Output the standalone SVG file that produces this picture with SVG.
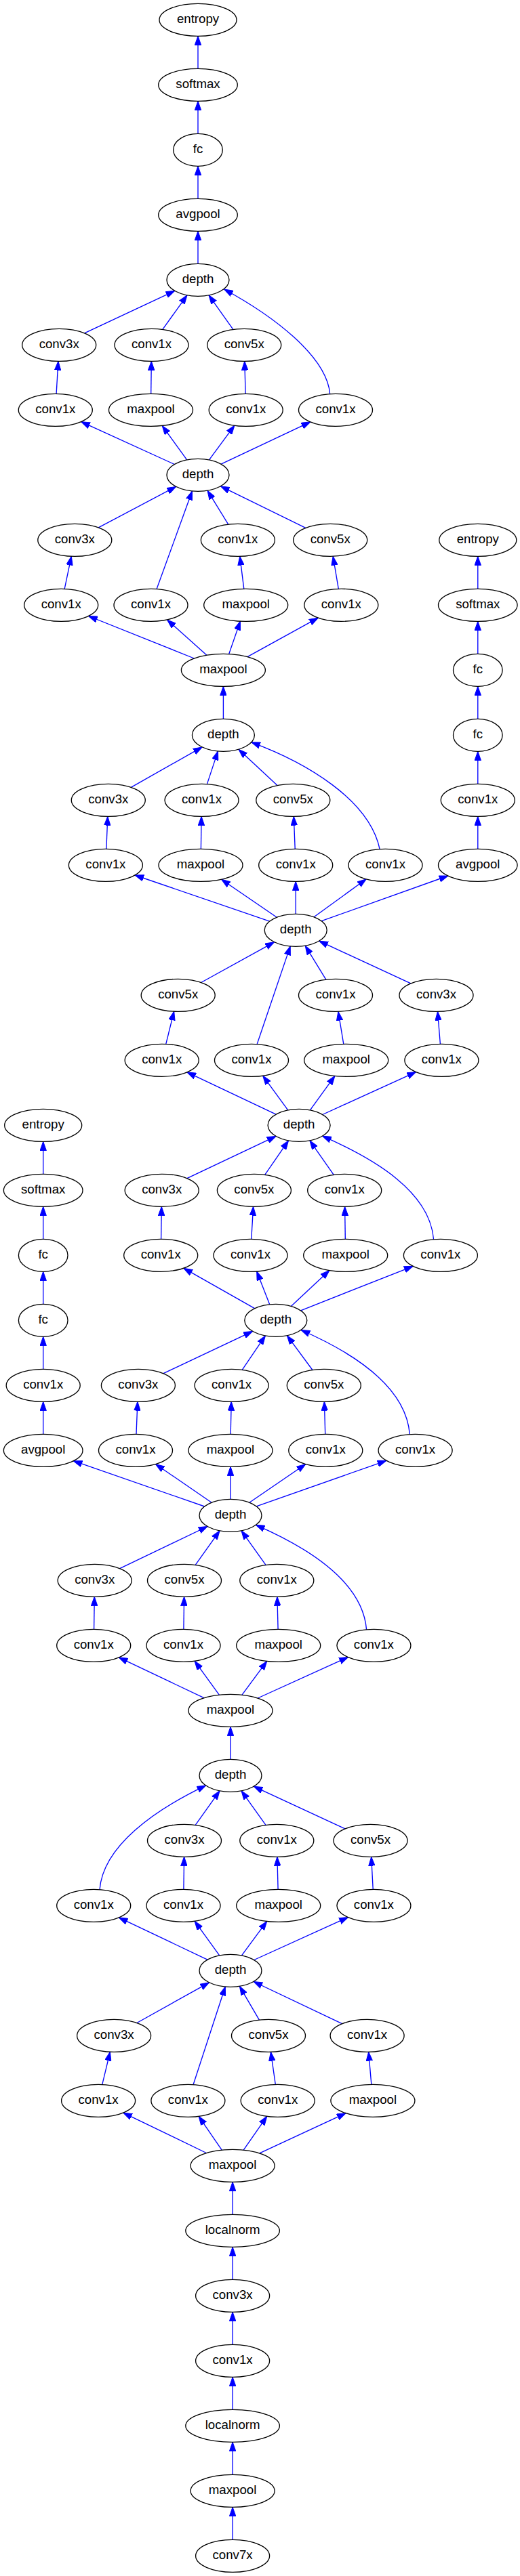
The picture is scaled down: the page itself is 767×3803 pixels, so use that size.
<svg xmlns="http://www.w3.org/2000/svg" width="767" height="3803" viewBox="0 0 767 3803">
<style>
.n ellipse{fill:#fff;stroke:#000;stroke-width:1.33}
.n text{font-family:"Liberation Sans",Arial,Helvetica,sans-serif;font-size:18.67px;text-anchor:middle;fill:#000}
.e path{fill:none;stroke:#0000ff;stroke-width:1.33;marker-end:url(#ah)}
</style>
<defs>
<marker id="ah" viewBox="0 0 14 10" refX="13.3" refY="5" markerWidth="14" markerHeight="10" markerUnits="userSpaceOnUse" orient="auto">
<path d="M0,0.3 L13.3,5 L0,9.7 z" fill="#0000ff" stroke="#0000ff" stroke-width="1"/>
</marker>
</defs>
<rect x="0" y="0" width="767" height="3803" fill="#fff"/>
<g id="edges" class="e">
<path d="M292,101.3 L292,53.3"/>
<path d="M292,197.3 L292,149.3"/>
<path d="M292,293.3 L292,245.3"/>
<path d="M292,389.3 L292,341.3"/>
<path d="M124.5,491.8 L257.8,429.3"/>
<path d="M239.8,486.4 L276,435.8"/>
<path d="M343.9,486.4 L308,435.8"/>
<path d="M486.7,581.7 C482,525 400.5,465 330.5,427"/>
<path d="M83.1,581.3 L85.9,533.3"/>
<path d="M222.7,581.3 L223.3,533.3"/>
<path d="M362.1,581.3 L360.8,533.3"/>
<path d="M257.4,685.5 L119.6,622.6"/>
<path d="M275.7,678.8 L239.2,628.4"/>
<path d="M308.5,678.9 L345.9,628.1"/>
<path d="M326.1,685.2 L457.9,622.9"/>
<path d="M145.2,778.9 L259.7,718.4"/>
<path d="M231.1,869.6 L283.5,724.9"/>
<path d="M336.7,774.1 L306,724.2"/>
<path d="M450.8,779.4 L325.5,717.8"/>
<path d="M95.2,869.4 L105.3,821.2"/>
<path d="M359.8,869.3 L353.8,821.3"/>
<path d="M499.3,869.3 L491.2,821.3"/>
<path d="M704.8,869.3 L704.8,821.3"/>
<path d="M286.4,972 L130.5,909.5"/>
<path d="M304.9,967.3 L246.5,914.9"/>
<path d="M337.7,965.5 L354.4,917.1"/>
<path d="M365,969.6 L469.3,912.1"/>
<path d="M704.8,965.3 L704.8,917.3"/>
<path d="M329.4,1061.3 L329.4,1013.3"/>
<path d="M704.8,1061.3 L704.8,1013.3"/>
<path d="M193.3,1162.4 L298.2,1102.9"/>
<path d="M305.4,1157.6 L321.5,1108.9"/>
<path d="M409,1159.6 L351.9,1106.2"/>
<path d="M560.2,1254 C545,1180 450,1125 370.7,1095.8"/>
<path d="M156.9,1253.3 L158.8,1205.3"/>
<path d="M296.4,1253.3 L297.1,1205.3"/>
<path d="M435.2,1253.3 L433.3,1205.3"/>
<path d="M704.8,1157.3 L704.8,1109.3"/>
<path d="M704.8,1253.3 L704.8,1205.3"/>
<path d="M397.7,1360.1 L198.9,1292"/>
<path d="M408.3,1354.2 L326.5,1298.2"/>
<path d="M436.2,1349.3 L436.2,1301.3"/>
<path d="M463.1,1353.8 L540.2,1297.8"/>
<path d="M474.2,1359.7 L660.9,1293"/>
<path d="M296.6,1450.5 L404.6,1390.8"/>
<path d="M379.1,1541.6 L428.2,1396.9"/>
<path d="M480.8,1446.1 L450.2,1396.2"/>
<path d="M605.9,1451.9 L470.6,1389.2"/>
<path d="M244.7,1541.5 L256.7,1493.1"/>
<path d="M506.8,1541.3 L498.9,1493.3"/>
<path d="M649.4,1541.3 L645.5,1493.3"/>
<path d="M407.1,1645.2 L275.8,1582.9"/>
<path d="M424.7,1638.9 L387.7,1588.1"/>
<path d="M457.4,1638.9 L493.9,1588.4"/>
<path d="M475.7,1645.5 L613.6,1582.6"/>
<path d="M275.8,1739.7 L407.1,1677.4"/>
<path d="M390.7,1734.3 L425.5,1683.9"/>
<path d="M492.2,1734.4 L456.9,1683.8"/>
<path d="M639.6,1830 C634,1760 555,1712 475.5,1677.2"/>
<path d="M237.6,1829.3 L238.3,1781.3"/>
<path d="M370.8,1829.3 L373.6,1781.3"/>
<path d="M509.3,1829.3 L508.6,1781.3"/>
<path d="M63.7,1733.3 L63.7,1685.3"/>
<path d="M63.7,1829.3 L63.7,1781.3"/>
<path d="M63.7,1925.3 L63.7,1877.3"/>
<path d="M63.7,2021.3 L63.7,1973.3"/>
<path d="M63.7,2117.3 L63.7,2069.3"/>
<path d="M375.6,1931.7 L270.7,1872.2"/>
<path d="M397.7,1925.8 L378.7,1877"/>
<path d="M429.3,1928.4 L485.9,1875.5"/>
<path d="M443.5,1934.8 L609.3,1869.3"/>
<path d="M241,2027.7 L372.7,1965.4"/>
<path d="M357.2,2022.3 L391.4,1971.9"/>
<path d="M460.9,2022.5 L423.4,1971.7"/>
<path d="M604.3,2117.3 C598.7,2047.3 523.5,1998.3 444,1963.5"/>
<path d="M201,2117.3 L202.9,2069.3"/>
<path d="M340.2,2117.3 L341.2,2069.3"/>
<path d="M479.7,2117.3 L478.4,2069.3"/>
<path d="M301.7,2224 L108.1,2156.7"/>
<path d="M312.1,2218.2 L229.5,2161.5"/>
<path d="M340,2213.3 L340,2165.3"/>
<path d="M367.9,2218.2 L450.8,2161.5"/>
<path d="M378.1,2223.9 L570,2156.3"/>
<path d="M176.6,2315.6 L306.1,2253.5"/>
<path d="M288.2,2310.4 L324.1,2259.8"/>
<path d="M392,2310.4 L356,2259.8"/>
<path d="M540.6,2406 C535,2336 457,2286 377.4,2251.3"/>
<path d="M138.6,2405.3 L139.3,2357.3"/>
<path d="M270.9,2405.3 L271.6,2357.3"/>
<path d="M410.1,2405.3 L408.9,2357.3"/>
<path d="M300.9,2506.7 L175.2,2446.9"/>
<path d="M323.3,2502.2 L287.1,2452.2"/>
<path d="M357,2502.2 L393.7,2452.4"/>
<path d="M380.2,2507 L513.5,2446.5"/>
<path d="M340,2597.3 L340,2549.3"/>
<path d="M147,2790 C152,2725 228.7,2672 303.7,2635.9"/>
<path d="M288.2,2694.4 L324.1,2643.8"/>
<path d="M392,2694.4 L356,2643.8"/>
<path d="M509,2699.9 L374.3,2637.3"/>
<path d="M270.9,2789.3 L271.6,2741.3"/>
<path d="M410.1,2789.3 L408.9,2741.3"/>
<path d="M550.2,2789.3 L547.7,2741.3"/>
<path d="M306,2893.1 L175.2,2830.9"/>
<path d="M323.7,2886.8 L287.1,2836.2"/>
<path d="M356.5,2886.9 L393.7,2836.4"/>
<path d="M374.7,2893.5 L513.5,2830.5"/>
<path d="M201.8,2986.5 L308.6,2926.8"/>
<path d="M285.1,3077.5 L332.3,2933"/>
<path d="M382.4,2982.1 L353.4,2932.3"/>
<path d="M504.6,2987.7 L374,2925.5"/>
<path d="M150.8,3077.4 L162.4,3029.2"/>
<path d="M406.3,3077.3 L399.4,3029.3"/>
<path d="M547.8,3077.3 L543.7,3029.3"/>
<path d="M304.4,3178.5 L181.7,3119.1"/>
<path d="M327.2,3174.1 L293.1,3124.3"/>
<path d="M359.2,3174.1 L393.8,3124.3"/>
<path d="M382.8,3178.9 L510.2,3119.7"/>
<path d="M343.1,3269.3 L343.1,3221.3"/>
<path d="M343.1,3365.3 L343.1,3317.3"/>
<path d="M343.1,3461.3 L343.1,3413.3"/>
<path d="M343.1,3557.3 L343.1,3509.3"/>
<path d="M343.1,3653.3 L343.1,3605.3"/>
<path d="M343.1,3749.3 L343.1,3701.3"/>
</g>
<g id="nodes">
<g id="entropy_1" class="n"><ellipse cx="292" cy="29.3" rx="57" ry="24"/><text x="292" y="34.2">entropy</text></g>
<g id="softmax_1" class="n"><ellipse cx="292" cy="125.3" rx="58.3" ry="24"/><text x="292" y="130.2">softmax</text></g>
<g id="fc_1" class="n"><ellipse cx="292" cy="221.3" rx="36.3" ry="24"/><text x="292" y="226.2">fc</text></g>
<g id="avgpool_1" class="n"><ellipse cx="292" cy="317.3" rx="58.3" ry="24"/><text x="292" y="322.2">avgpool</text></g>
<g id="depth_9" class="n"><ellipse cx="292" cy="413.3" rx="46" ry="24"/><text x="292" y="418.2">depth</text></g>
<g id="conv3x_9" class="n"><ellipse cx="87.2" cy="509.3" rx="54.5" ry="24"/><text x="87.2" y="514.2">conv3x</text></g>
<g id="conv1x_9a" class="n"><ellipse cx="223.5" cy="509.3" rx="54.5" ry="24"/><text x="223.5" y="514.2">conv1x</text></g>
<g id="conv5x_9" class="n"><ellipse cx="360.2" cy="509.3" rx="54.5" ry="24"/><text x="360.2" y="514.2">conv5x</text></g>
<g id="conv1x_9b" class="n"><ellipse cx="81.8" cy="605.3" rx="54.5" ry="24"/><text x="81.8" y="610.2">conv1x</text></g>
<g id="maxpool_9" class="n"><ellipse cx="222.5" cy="605.3" rx="62" ry="24"/><text x="222.5" y="610.2">maxpool</text></g>
<g id="conv1x_9c" class="n"><ellipse cx="362.7" cy="605.3" rx="54.5" ry="24"/><text x="362.7" y="610.2">conv1x</text></g>
<g id="conv1x_9d" class="n"><ellipse cx="495" cy="605.3" rx="54.5" ry="24"/><text x="495" y="610.2">conv1x</text></g>
<g id="depth_8" class="n"><ellipse cx="292" cy="701.3" rx="46" ry="24"/><text x="292" y="706.2">depth</text></g>
<g id="conv3x_8" class="n"><ellipse cx="110.3" cy="797.3" rx="54.5" ry="24"/><text x="110.3" y="802.2">conv3x</text></g>
<g id="conv1x_8a" class="n"><ellipse cx="350.9" cy="797.3" rx="54.5" ry="24"/><text x="350.9" y="802.2">conv1x</text></g>
<g id="conv5x_8" class="n"><ellipse cx="487.2" cy="797.3" rx="54.5" ry="24"/><text x="487.2" y="802.2">conv5x</text></g>
<g id="entropy_2" class="n"><ellipse cx="704.8" cy="797.3" rx="57" ry="24"/><text x="704.8" y="802.2">entropy</text></g>
<g id="conv1x_8b" class="n"><ellipse cx="90.2" cy="893.3" rx="54.5" ry="24"/><text x="90.2" y="898.2">conv1x</text></g>
<g id="conv1x_8c" class="n"><ellipse cx="222.5" cy="893.3" rx="54.5" ry="24"/><text x="222.5" y="898.2">conv1x</text></g>
<g id="maxpool_8" class="n"><ellipse cx="362.7" cy="893.3" rx="62" ry="24"/><text x="362.7" y="898.2">maxpool</text></g>
<g id="conv1x_8d" class="n"><ellipse cx="503.3" cy="893.3" rx="54.5" ry="24"/><text x="503.3" y="898.2">conv1x</text></g>
<g id="softmax_2" class="n"><ellipse cx="704.8" cy="893.3" rx="58.3" ry="24"/><text x="704.8" y="898.2">softmax</text></g>
<g id="maxpool_p3" class="n"><ellipse cx="329.4" cy="989.3" rx="62" ry="24"/><text x="329.4" y="994.2">maxpool</text></g>
<g id="fc_2b" class="n"><ellipse cx="704.8" cy="989.3" rx="36.3" ry="24"/><text x="704.8" y="994.2">fc</text></g>
<g id="depth_7" class="n"><ellipse cx="329.4" cy="1085.3" rx="46" ry="24"/><text x="329.4" y="1090.2">depth</text></g>
<g id="fc_2a" class="n"><ellipse cx="704.8" cy="1085.3" rx="36.3" ry="24"/><text x="704.8" y="1090.2">fc</text></g>
<g id="conv3x_7" class="n"><ellipse cx="159.8" cy="1181.3" rx="54.5" ry="24"/><text x="159.8" y="1186.2">conv3x</text></g>
<g id="conv1x_7a" class="n"><ellipse cx="297.5" cy="1181.3" rx="54.5" ry="24"/><text x="297.5" y="1186.2">conv1x</text></g>
<g id="conv5x_7" class="n"><ellipse cx="432.3" cy="1181.3" rx="54.5" ry="24"/><text x="432.3" y="1186.2">conv5x</text></g>
<g id="conv1x_aux2" class="n"><ellipse cx="704.8" cy="1181.3" rx="54.5" ry="24"/><text x="704.8" y="1186.2">conv1x</text></g>
<g id="conv1x_7b" class="n"><ellipse cx="155.9" cy="1277.3" rx="54.5" ry="24"/><text x="155.9" y="1282.2">conv1x</text></g>
<g id="maxpool_7" class="n"><ellipse cx="296" cy="1277.3" rx="62" ry="24"/><text x="296" y="1282.2">maxpool</text></g>
<g id="conv1x_7c" class="n"><ellipse cx="436.2" cy="1277.3" rx="54.5" ry="24"/><text x="436.2" y="1282.2">conv1x</text></g>
<g id="conv1x_7d" class="n"><ellipse cx="568.5" cy="1277.3" rx="54.5" ry="24"/><text x="568.5" y="1282.2">conv1x</text></g>
<g id="avgpool_2" class="n"><ellipse cx="704.8" cy="1277.3" rx="58.3" ry="24"/><text x="704.8" y="1282.2">avgpool</text></g>
<g id="depth_6" class="n"><ellipse cx="436.2" cy="1373.3" rx="46" ry="24"/><text x="436.2" y="1378.2">depth</text></g>
<g id="conv5x_6" class="n"><ellipse cx="262.7" cy="1469.3" rx="54.5" ry="24"/><text x="262.7" y="1474.2">conv5x</text></g>
<g id="conv1x_6a" class="n"><ellipse cx="495" cy="1469.3" rx="54.5" ry="24"/><text x="495" y="1474.2">conv1x</text></g>
<g id="conv3x_6" class="n"><ellipse cx="643.5" cy="1469.3" rx="54.5" ry="24"/><text x="643.5" y="1474.2">conv3x</text></g>
<g id="conv1x_6b" class="n"><ellipse cx="238.7" cy="1565.3" rx="54.5" ry="24"/><text x="238.7" y="1570.2">conv1x</text></g>
<g id="conv1x_6c" class="n"><ellipse cx="371" cy="1565.3" rx="54.5" ry="24"/><text x="371" y="1570.2">conv1x</text></g>
<g id="maxpool_6" class="n"><ellipse cx="510.7" cy="1565.3" rx="62" ry="24"/><text x="510.7" y="1570.2">maxpool</text></g>
<g id="conv1x_6d" class="n"><ellipse cx="651.4" cy="1565.3" rx="54.5" ry="24"/><text x="651.4" y="1570.2">conv1x</text></g>
<g id="entropy_3" class="n"><ellipse cx="63.7" cy="1661.3" rx="57" ry="24"/><text x="63.7" y="1666.2">entropy</text></g>
<g id="depth_5" class="n"><ellipse cx="441.1" cy="1661.3" rx="46" ry="24"/><text x="441.1" y="1666.2">depth</text></g>
<g id="softmax_3" class="n"><ellipse cx="63.7" cy="1757.3" rx="58.3" ry="24"/><text x="63.7" y="1762.2">softmax</text></g>
<g id="conv3x_5" class="n"><ellipse cx="238.7" cy="1757.3" rx="54.5" ry="24"/><text x="238.7" y="1762.2">conv3x</text></g>
<g id="conv5x_5" class="n"><ellipse cx="374.9" cy="1757.3" rx="54.5" ry="24"/><text x="374.9" y="1762.2">conv5x</text></g>
<g id="conv1x_5a" class="n"><ellipse cx="508.2" cy="1757.3" rx="54.5" ry="24"/><text x="508.2" y="1762.2">conv1x</text></g>
<g id="fc_3b" class="n"><ellipse cx="63.7" cy="1853.3" rx="36.3" ry="24"/><text x="63.7" y="1858.2">fc</text></g>
<g id="conv1x_5b" class="n"><ellipse cx="237.2" cy="1853.3" rx="54.5" ry="24"/><text x="237.2" y="1858.2">conv1x</text></g>
<g id="conv1x_5c" class="n"><ellipse cx="369.5" cy="1853.3" rx="54.5" ry="24"/><text x="369.5" y="1858.2">conv1x</text></g>
<g id="maxpool_5" class="n"><ellipse cx="509.7" cy="1853.3" rx="62" ry="24"/><text x="509.7" y="1858.2">maxpool</text></g>
<g id="conv1x_5d" class="n"><ellipse cx="649.9" cy="1853.3" rx="54.5" ry="24"/><text x="649.9" y="1858.2">conv1x</text></g>
<g id="fc_3a" class="n"><ellipse cx="63.7" cy="1949.3" rx="36.3" ry="24"/><text x="63.7" y="1954.2">fc</text></g>
<g id="depth_4" class="n"><ellipse cx="406.8" cy="1949.3" rx="46" ry="24"/><text x="406.8" y="1954.2">depth</text></g>
<g id="conv1x_aux1" class="n"><ellipse cx="63.7" cy="2045.3" rx="54.5" ry="24"/><text x="63.7" y="2050.2">conv1x</text></g>
<g id="conv3x_4" class="n"><ellipse cx="203.9" cy="2045.3" rx="54.5" ry="24"/><text x="203.9" y="2050.2">conv3x</text></g>
<g id="conv1x_4a" class="n"><ellipse cx="341.6" cy="2045.3" rx="54.5" ry="24"/><text x="341.6" y="2050.2">conv1x</text></g>
<g id="conv5x_4" class="n"><ellipse cx="477.8" cy="2045.3" rx="54.5" ry="24"/><text x="477.8" y="2050.2">conv5x</text></g>
<g id="avgpool_3" class="n"><ellipse cx="63.7" cy="2141.3" rx="58.3" ry="24"/><text x="63.7" y="2146.2">avgpool</text></g>
<g id="conv1x_4b" class="n"><ellipse cx="200" cy="2141.3" rx="54.5" ry="24"/><text x="200" y="2146.2">conv1x</text></g>
<g id="maxpool_4" class="n"><ellipse cx="340" cy="2141.3" rx="62" ry="24"/><text x="340" y="2146.2">maxpool</text></g>
<g id="conv1x_4c" class="n"><ellipse cx="480.3" cy="2141.3" rx="54.5" ry="24"/><text x="480.3" y="2146.2">conv1x</text></g>
<g id="conv1x_4d" class="n"><ellipse cx="612.6" cy="2141.3" rx="54.5" ry="24"/><text x="612.6" y="2146.2">conv1x</text></g>
<g id="depth_3" class="n"><ellipse cx="340" cy="2237.3" rx="46" ry="24"/><text x="340" y="2242.2">depth</text></g>
<g id="conv3x_3" class="n"><ellipse cx="139.7" cy="2333.3" rx="54.5" ry="24"/><text x="139.7" y="2338.2">conv3x</text></g>
<g id="conv5x_3" class="n"><ellipse cx="272" cy="2333.3" rx="54.5" ry="24"/><text x="272" y="2338.2">conv5x</text></g>
<g id="conv1x_3a" class="n"><ellipse cx="408.3" cy="2333.3" rx="54.5" ry="24"/><text x="408.3" y="2338.2">conv1x</text></g>
<g id="conv1x_3b" class="n"><ellipse cx="138.2" cy="2429.3" rx="54.5" ry="24"/><text x="138.2" y="2434.2">conv1x</text></g>
<g id="conv1x_3c" class="n"><ellipse cx="270.5" cy="2429.3" rx="54.5" ry="24"/><text x="270.5" y="2434.2">conv1x</text></g>
<g id="maxpool_3" class="n"><ellipse cx="410.7" cy="2429.3" rx="62" ry="24"/><text x="410.7" y="2434.2">maxpool</text></g>
<g id="conv1x_3d" class="n"><ellipse cx="551.4" cy="2429.3" rx="54.5" ry="24"/><text x="551.4" y="2434.2">conv1x</text></g>
<g id="maxpool_p2" class="n"><ellipse cx="340" cy="2525.3" rx="62" ry="24"/><text x="340" y="2530.2">maxpool</text></g>
<g id="depth_2" class="n"><ellipse cx="340" cy="2621.3" rx="46" ry="24"/><text x="340" y="2626.2">depth</text></g>
<g id="conv3x_2" class="n"><ellipse cx="272" cy="2717.3" rx="54.5" ry="24"/><text x="272" y="2722.2">conv3x</text></g>
<g id="conv1x_2a" class="n"><ellipse cx="408.3" cy="2717.3" rx="54.5" ry="24"/><text x="408.3" y="2722.2">conv1x</text></g>
<g id="conv5x_2" class="n"><ellipse cx="546.5" cy="2717.3" rx="54.5" ry="24"/><text x="546.5" y="2722.2">conv5x</text></g>
<g id="conv1x_2b" class="n"><ellipse cx="138.2" cy="2813.3" rx="54.5" ry="24"/><text x="138.2" y="2818.2">conv1x</text></g>
<g id="conv1x_2c" class="n"><ellipse cx="270.5" cy="2813.3" rx="54.5" ry="24"/><text x="270.5" y="2818.2">conv1x</text></g>
<g id="maxpool_2" class="n"><ellipse cx="410.7" cy="2813.3" rx="62" ry="24"/><text x="410.7" y="2818.2">maxpool</text></g>
<g id="conv1x_2d" class="n"><ellipse cx="551.4" cy="2813.3" rx="54.5" ry="24"/><text x="551.4" y="2818.2">conv1x</text></g>
<g id="depth_1" class="n"><ellipse cx="340" cy="2909.3" rx="46" ry="24"/><text x="340" y="2914.2">depth</text></g>
<g id="conv3x_1" class="n"><ellipse cx="168.1" cy="3005.3" rx="54.5" ry="24"/><text x="168.1" y="3010.2">conv3x</text></g>
<g id="conv5x_1" class="n"><ellipse cx="396" cy="3005.3" rx="54.5" ry="24"/><text x="396" y="3010.2">conv5x</text></g>
<g id="conv1x_1a" class="n"><ellipse cx="541.6" cy="3005.3" rx="54.5" ry="24"/><text x="541.6" y="3010.2">conv1x</text></g>
<g id="conv1x_1b" class="n"><ellipse cx="145.1" cy="3101.3" rx="54.5" ry="24"/><text x="145.1" y="3106.2">conv1x</text></g>
<g id="conv1x_1c" class="n"><ellipse cx="277.4" cy="3101.3" rx="54.5" ry="24"/><text x="277.4" y="3106.2">conv1x</text></g>
<g id="conv1x_1d" class="n"><ellipse cx="409.7" cy="3101.3" rx="54.5" ry="24"/><text x="409.7" y="3106.2">conv1x</text></g>
<g id="maxpool_1" class="n"><ellipse cx="549.9" cy="3101.3" rx="62" ry="24"/><text x="549.9" y="3106.2">maxpool</text></g>
<g id="maxpool_p1" class="n"><ellipse cx="343.1" cy="3197.3" rx="62" ry="24"/><text x="343.1" y="3202.2">maxpool</text></g>
<g id="localnorm_2" class="n"><ellipse cx="343.1" cy="3293.3" rx="69.3" ry="24"/><text x="343.1" y="3298.2">localnorm</text></g>
<g id="conv3x_0" class="n"><ellipse cx="343.1" cy="3389.3" rx="54.5" ry="24"/><text x="343.1" y="3394.2">conv3x</text></g>
<g id="conv1x_0" class="n"><ellipse cx="343.1" cy="3485.3" rx="54.5" ry="24"/><text x="343.1" y="3490.2">conv1x</text></g>
<g id="localnorm_1" class="n"><ellipse cx="343.1" cy="3581.3" rx="69.3" ry="24"/><text x="343.1" y="3586.2">localnorm</text></g>
<g id="maxpool_0" class="n"><ellipse cx="343.1" cy="3677.3" rx="62" ry="24"/><text x="343.1" y="3682.2">maxpool</text></g>
<g id="conv7x_0" class="n"><ellipse cx="343.1" cy="3773.3" rx="54.5" ry="24"/><text x="343.1" y="3778.2">conv7x</text></g>
</g>
</svg>
